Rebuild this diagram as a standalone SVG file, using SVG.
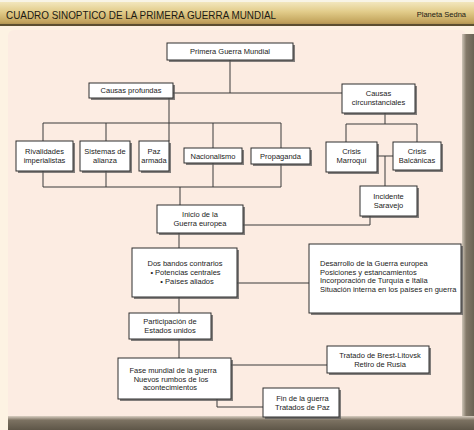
<svg xmlns="http://www.w3.org/2000/svg" width="474" height="430" viewBox="0 0 474 430">
<defs>
<linearGradient id="hdr" x1="0" y1="0" x2="0" y2="1">
<stop offset="0" stop-color="#f6ecc8"/>
<stop offset="0.45" stop-color="#e2cc8a"/>
<stop offset="0.85" stop-color="#c2a45c"/>
<stop offset="1" stop-color="#9c8448"/>
</linearGradient>
<linearGradient id="rb" x1="0" y1="0" x2="1" y2="0">
<stop offset="0" stop-color="#cfc6b8"/>
<stop offset="0.35" stop-color="#847a6a"/>
<stop offset="1" stop-color="#6a6254"/>
</linearGradient>
<linearGradient id="bb" x1="0" y1="0" x2="0" y2="1">
<stop offset="0" stop-color="#d9cfc2"/>
<stop offset="0.3" stop-color="#7c7262"/>
<stop offset="1" stop-color="#5e5648"/>
</linearGradient>
<style>
.box{fill:#ffffff;stroke:#2e2e2e;stroke-width:1}
.sh{fill:#5a5a5a;opacity:0.75}
.ln{fill:none;stroke:#3a3a3a;stroke-width:1}
.t{font-family:"Liberation Sans",Arial,sans-serif;font-size:7.5px;fill:#222;text-anchor:middle}
.tl{font-family:"Liberation Sans",Arial,sans-serif;font-size:7.5px;fill:#222}
</style>
</defs>
<rect x="0" y="0" width="474" height="430" fill="#fdf3e3"/>
<rect x="0" y="0" width="474" height="26" fill="url(#hdr)"/>
<rect x="0" y="0" width="474" height="2" fill="#f8f4e6"/>
<rect x="0" y="24" width="474" height="2" fill="#5c5030"/>
<text x="6" y="19" font-family="'Liberation Sans',Arial,sans-serif" font-size="11" fill="#1c1a14" textLength="270" lengthAdjust="spacingAndGlyphs">CUADRO SINOPTICO DE LA PRIMERA GUERRA MUNDIAL</text>
<text x="466" y="17" font-family="'Liberation Sans',Arial,sans-serif" font-size="7.5" fill="#1c1a14" text-anchor="end">Planeta Sedna</text>
<rect x="8" y="30" width="458" height="390" rx="6" fill="#fcece2"/>
<rect x="462" y="34" width="12" height="396" fill="url(#rb)"/>
<rect x="8" y="416" width="466" height="14" fill="url(#bb)"/>
<g id="connectors">
<path class="ln" d="M230 60V93M173 93H342"/>
<path class="ln" d="M169 98V141M43 123H281M43 123V141M106 123V141M213 123V148M281 123V148"/>
<path class="ln" d="M43 171V187M106 171V187M213 163V187M281 164V187M43 187H281M180 187V205"/>
<path class="ln" d="M385 113V124M346 124H417M346 124V142M417 124V142M377 156H393M385 156V186"/>
<path class="ln" d="M243 225H370V216M179 233V248"/>
<path class="ln" d="M237 283H309M179 297V313M179 339V358"/>
<path class="ln" d="M231 365H327M217 399V407H263"/>
</g>
<g id="n1"><rect class="sh" x="169" y="45" width="126" height="17"/><rect class="box" x="167" y="43" width="126" height="17"/><text class="t" x="230" y="54">Primera Guerra Mundial</text></g>
<g id="n2"><rect class="sh" x="91" y="85" width="84" height="15"/><rect class="box" x="89" y="83" width="84" height="15"/><text class="t" x="131" y="93">Causas profundas</text></g>
<g id="n3"><rect class="sh" x="344" y="86" width="73" height="29"/><rect class="box" x="342" y="84" width="73" height="29"/><text class="t" x="378.5" y="96">Causas</text><text class="t" x="378.5" y="105">circunstanciales</text></g>
<g id="n4"><rect class="sh" x="18" y="143" width="57" height="30"/><rect class="box" x="16" y="141" width="57" height="30"/><text class="t" x="44.5" y="154">Rivalidades</text><text class="t" x="44.5" y="163">imperialistas</text></g>
<g id="n5"><rect class="sh" x="82" y="143" width="50" height="30"/><rect class="box" x="80" y="141" width="50" height="30"/><text class="t" x="105" y="154">Sistemas de</text><text class="t" x="105" y="163">alianza</text></g>
<g id="n6"><rect class="sh" x="141" y="143" width="30" height="30"/><rect class="box" x="139" y="141" width="30" height="30"/><text class="t" x="154" y="154">Paz</text><text class="t" x="154" y="163">armada</text></g>
<g id="n7"><rect class="sh" x="186" y="150" width="58" height="15"/><rect class="box" x="184" y="148" width="58" height="15"/><text class="t" x="213" y="158.5">Nacionalismo</text></g>
<g id="n8"><rect class="sh" x="253" y="150" width="59" height="16"/><rect class="box" x="251" y="148" width="59" height="16"/><text class="t" x="280.5" y="158.5">Propaganda</text></g>
<g id="n9"><rect class="sh" x="328" y="144" width="51" height="30"/><rect class="box" x="326" y="142" width="51" height="30"/><text class="t" x="351.5" y="153.5">Crisis</text><text class="t" x="351.5" y="162.5">Marroquí</text></g>
<g id="n10"><rect class="sh" x="395" y="144" width="48" height="28"/><rect class="box" x="393" y="142" width="48" height="28"/><text class="t" x="417" y="153.5">Crisis</text><text class="t" x="417" y="162.5">Balcánicas</text></g>
<g id="n11"><rect class="sh" x="362" y="188" width="57" height="30"/><rect class="box" x="360" y="186" width="57" height="30"/><text class="t" x="388.5" y="199">Incidente</text><text class="t" x="388.5" y="208">Saravejo</text></g>
<g id="n12"><rect class="sh" x="159" y="207" width="86" height="28"/><rect class="box" x="157" y="205" width="86" height="28"/><text class="t" x="200" y="217">Inicio de la</text><text class="t" x="200" y="226">Guerra europea</text></g>
<g id="n13"><rect class="sh" x="134" y="250" width="105" height="49"/><rect class="box" x="132" y="248" width="105" height="49"/><text class="t" x="185" y="266">Dos bandos contrarios</text><text class="t" x="185.5" y="275">• Potencias centrales</text><text class="t" x="187" y="284">• Países aliados</text></g>
<g id="n14"><rect class="sh" x="311" y="246" width="152" height="69"/><rect class="box" x="309" y="244" width="152" height="69"/><text class="tl" x="320" y="266">Desarrollo de la Guerra europea</text><text class="tl" x="320" y="274.5">Posiciones y estancamientos</text><text class="tl" x="320" y="283">Incorporación de Turquía e Italia</text><text class="tl" x="320" y="291.5">Situación interna en los países en guerra</text></g>
<g id="n15"><rect class="sh" x="131" y="315" width="82" height="26"/><rect class="box" x="129" y="313" width="82" height="26"/><text class="t" x="170" y="324">Participación de</text><text class="t" x="170" y="333">Estados unidos</text></g>
<g id="n16"><rect class="sh" x="120" y="360" width="113" height="41"/><rect class="box" x="118" y="358" width="113" height="41"/><text class="t" x="173" y="373">Fase mundial de la guerra</text><text class="t" x="171" y="381.5">Nuevos rumbos de los</text><text class="t" x="170" y="390">acontecimientos</text></g>
<g id="n17"><rect class="sh" x="329" y="348" width="102" height="27"/><rect class="box" x="327" y="346" width="102" height="27"/><text class="t" x="380" y="357.5">Tratado de Brest-Litovsk</text><text class="t" x="380" y="366.5">Retiro de Rusia</text></g>
<g id="n18"><rect class="sh" x="265" y="390" width="76" height="29"/><rect class="box" x="263" y="388" width="76" height="29"/><text class="t" x="302.5" y="401">Fin de la guerra</text><text class="t" x="302.5" y="410">Tratados de Paz</text></g>
</svg>
